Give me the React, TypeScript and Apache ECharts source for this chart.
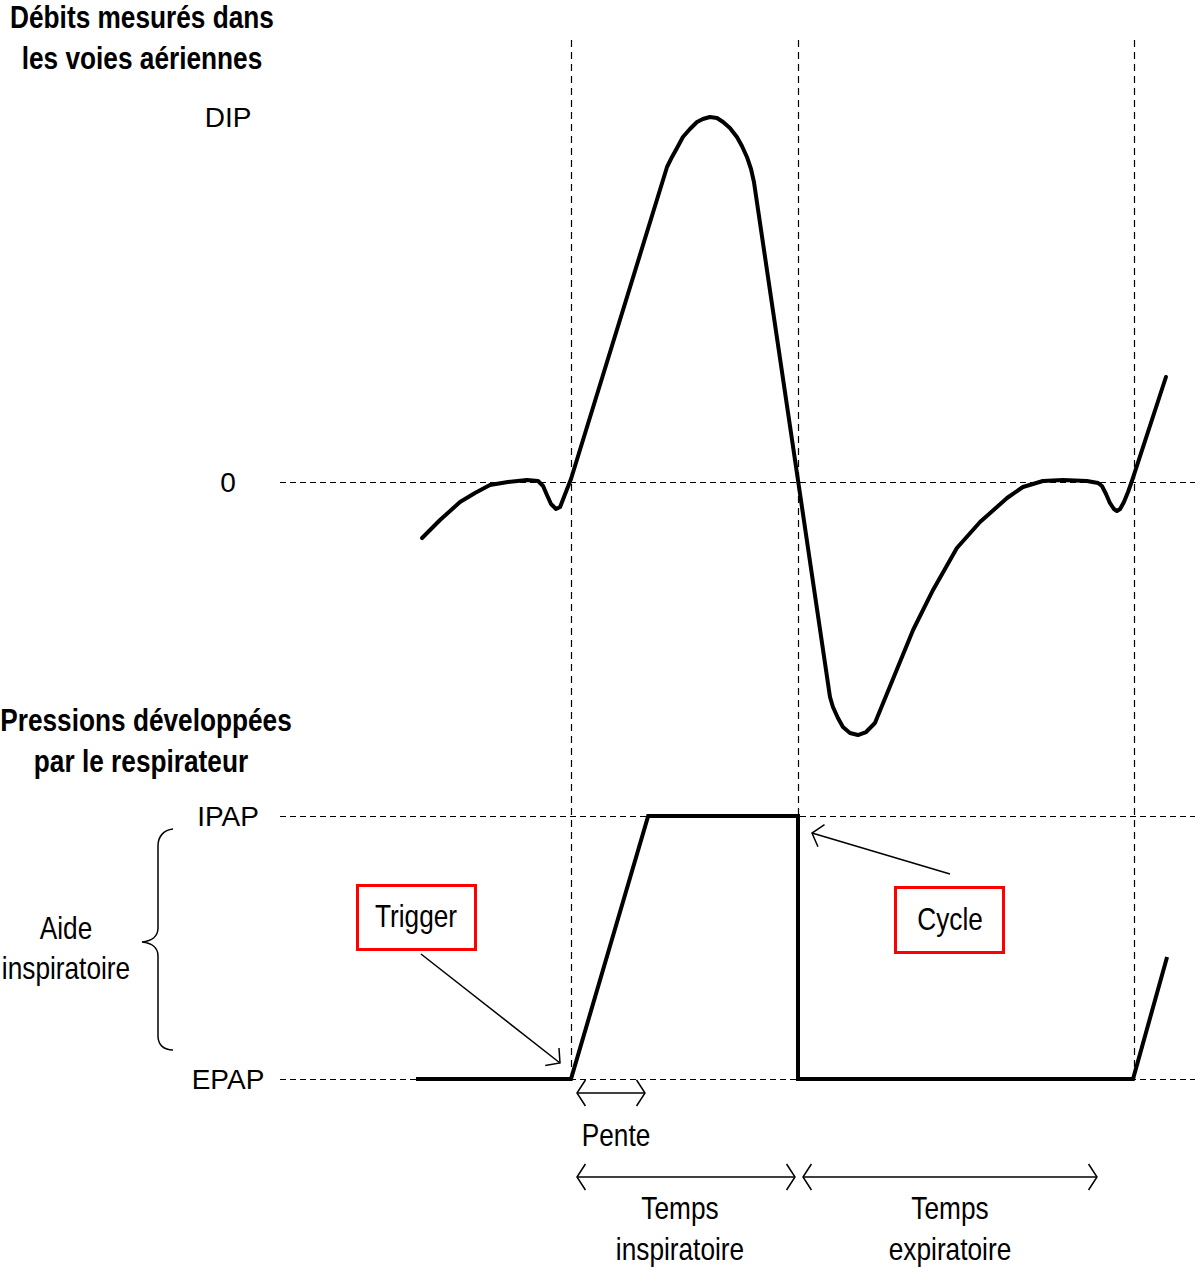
import React, { useEffect, useRef } from "react";
import * as echarts from "echarts";

// Time of the breath events (s): trigger, cycle, next trigger
const breathEvents = [0, 1.0, 2.476];

// Airway flow (L/min) against time (s)
const flowTime = [
  -0.656, -0.577, -0.489, -0.423, -0.357, -0.278, -0.194, -0.145, -0.123, -0.106,
  -0.088, -0.066, -0.048, -0.031, 0, 0.423, 0.445, 0.467, 0.493, 0.524,
  0.555, 0.581, 0.612, 0.643, 0.67, 0.7, 0.731, 0.753, 0.775, 0.793,
  0.806, 1.141, 1.154, 1.176, 1.198, 1.229, 1.264, 1.3, 1.339, 1.507,
  1.595, 1.7, 1.802, 1.921, 1.991, 2.079, 2.167, 2.273, 2.322, 2.339,
  2.357, 2.374, 2.392, 2.405, 2.419, 2.436, 2.454, 2.471, 2.621,
];
const flowValue = [
  -9.21, -6.25, -3.29, -1.81, -0.49, 0, 0.33, 0.16, -0.66, -2.14,
  -3.62, -4.44, -4.11, -2.47, 0.49, 51.78, 53.43, 54.91, 56.72, 58.03,
  59.18, 59.67, 60, 59.84, 59.18, 58.19, 56.72, 55.24, 53.43, 51.45,
  49.32, -35.34, -36.99, -38.8, -40.28, -41.26, -41.59, -41.1, -39.62, -24.33,
  -17.75, -10.85, -6.58, -2.63, -0.82, 0.16, 0.33, 0.16, -0.16, -0.66,
  -1.97, -3.45, -4.44, -4.77, -4.44, -3.29, -1.64, 0.16, 17.26,
];

// Pressure delivered by the ventilator (cmH2O) against time (s)
const pressureTime = [-0.683, 0, 0.34, 1.0, 1.0, 2.476, 2.626];
const pressureValue = [5, 5, 15, 15, 5, 5, 9.64];

// Tick labels
const flowTickValues = [0, 60];
const flowTickLabels = ["0", "DIP"];
const pressureTickValues = [5, 15];
const pressureTickLabels = ["EPAP", "IPAP"];

const BRACE =
  "M173,829 C164,830 158,836 158,846 L158,928 C158,936 152,941 142,942 C152,943 158,948 158,956 L158,1036 C158,1045 164,1050 173,1050";
let braceRegistered = false;
function registerBrace() {
  if (braceRegistered) return;
  echarts.graphic.registerShape("brace", echarts.graphic.extendPath(BRACE, {}));
  braceRegistered = true;
}

function detectNarrow(): boolean {
  try {
    const ctx = document.createElement("canvas").getContext("2d");
    if (!ctx) return false;
    ctx.font = '32px "Liberation Sans Narrow", monospace';
    const a = ctx.measureText("Trigger mmm iii").width;
    ctx.font = "32px monospace";
    const b = ctx.measureText("Trigger mmm iii").width;
    return Math.abs(a - b) > 0.5;
  } catch (e) {
    return false;
  }
}

function head(tx: number, ty: number, fx: number, fy: number, len: number, deg: number) {
  const a = Math.atan2(fy - ty, fx - tx);
  const r = (deg * Math.PI) / 180;
  return [
    [tx + len * Math.cos(a + r), ty + len * Math.sin(a + r)],
    [tx, ty],
    [tx + len * Math.cos(a - r), ty + len * Math.sin(a - r)],
  ];
}

export default function App() {
  const ref = useRef<HTMLDivElement>(null);

  useEffect(() => {
    if (!ref.current) return;
    registerBrace();
    const narrow = detectNarrow();
    const family = narrow
      ? '"Liberation Sans Narrow", "Arial Narrow", sans-serif'
      : '"Liberation Sans", Arial, sans-serif';
    const sx = narrow ? 1 : 0.82;
    const font = (bold: boolean) => `${bold ? "bold " : ""}32px ${family}`;

    const chart = echarts.init(ref.current, undefined, { renderer: "svg" });

    const XMIN = -1.282;
    const XMAX = 2.749;
    const gridBase = { left: 280, width: 915 };

    const label = (text: string, x: number, y: number, bold = false) => ({
      type: "text",
      x,
      y,
      scaleX: sx,
      silent: true,
      style: {
        text,
        x: 0,
        y: 0,
        fill: "#000",
        font: font(bold),
        align: "center",
        verticalAlign: "middle",
      },
    });

    const stroke = { stroke: "#000", lineWidth: 1.5, fill: "none" };
    const line = (x1: number, y1: number, x2: number, y2: number) => ({
      type: "line",
      silent: true,
      shape: { x1, y1, x2, y2 },
      style: stroke,
    });
    const poly = (points: number[][]) => ({
      type: "polyline",
      silent: true,
      shape: { points },
      style: stroke,
    });
    const doubleArrow = (x1: number, x2: number, y: number) => [
      line(x1, y, x2, y),
      poly(head(x1, y, x2, y, 15.5, 57)),
      poly(head(x2, y, x1, y, 15.5, 57)),
    ];

    const axisLabelBase = {
      margin: 52,
      align: "center",
      color: "#000",
      fontSize: narrow ? 33 : 28,
      fontFamily: family,
    };

    const dashedH = { color: "#000", width: 1.2, type: [6, 4] };
    const dashedV = { color: "#000", width: 1.2, type: [7, 5] };

    chart.setOption({
      animation: false,
      backgroundColor: "#fff",
      grid: [
        { ...gridBase, top: 117, height: 730 },
        { ...gridBase, top: 816, height: 263 },
        { ...gridBase, top: 40, height: 1039 },
      ],
      xAxis: [0, 1, 2].map((i) => ({
        type: "value",
        gridIndex: i,
        min: XMIN,
        max: XMAX,
        show: false,
      })),
      yAxis: [
        {
          type: "value",
          gridIndex: 0,
          min: -60,
          max: 60,
          interval: 60,
          axisLine: { show: false },
          axisTick: { show: false },
          splitLine: { show: false },
          axisLabel: {
            ...axisLabelBase,
            formatter: (v: number) => {
              const i = flowTickValues.indexOf(v);
              return i >= 0 ? flowTickLabels[i] : "";
            },
          },
        },
        {
          type: "value",
          gridIndex: 1,
          min: 5,
          max: 15,
          interval: 5,
          axisLine: { show: false },
          axisTick: { show: false },
          splitLine: { show: false },
          axisLabel: {
            ...axisLabelBase,
            formatter: (v: number) => {
              const i = pressureTickValues.indexOf(v);
              return i >= 0 ? pressureTickLabels[i] : "";
            },
          },
        },
        { type: "value", gridIndex: 2, min: 0, max: 1, show: false },
      ],
      series: [
        {
          type: "line",
          name: "guides",
          xAxisIndex: 2,
          yAxisIndex: 2,
          data: [[0, 0.5]],
          symbol: "none",
          lineStyle: { opacity: 0 },
          silent: true,
          markLine: {
            silent: true,
            symbol: ["none", "none"],
            label: { show: false },
            lineStyle: dashedV,
            data: breathEvents.map((t) => ({ xAxis: t })),
          },
        },
        {
          type: "line",
          name: "Débit",
          xAxisIndex: 0,
          yAxisIndex: 0,
          data: flowTime.map((t, i) => [t, flowValue[i]]),
          symbol: "none",
          smooth: false,
          silent: true,
          z: 4,
          lineStyle: { color: "#000", width: 4, join: "round", cap: "round" },
          markLine: {
            silent: true,
            symbol: ["none", "none"],
            label: { show: false },
            lineStyle: dashedH,
            data: [{ yAxis: 0 }],
          },
        },
        {
          type: "line",
          name: "Pression",
          xAxisIndex: 1,
          yAxisIndex: 1,
          data: pressureTime.map((t, i) => [t, pressureValue[i]]),
          symbol: "none",
          silent: true,
          z: 4,
          lineStyle: { color: "#000", width: 4, join: "miter", cap: "butt" },
          markLine: {
            silent: true,
            symbol: ["none", "none"],
            label: { show: false },
            lineStyle: dashedH,
            data: pressureTickValues.map((v) => ({ yAxis: v })),
          },
        },
      ],
      graphic: [
        label("Débits mesurés dans", 142, 17, true),
        label("les voies aériennes", 142, 58, true),
        label("Pressions développées", 146, 720, true),
        label("par le respirateur", 141, 761, true),
        label("Aide", 66, 928),
        label("inspiratoire", 66, 968),
        {
          type: "brace",
          x: 0,
          y: 0,
          silent: true,
          style: { stroke: "#000", lineWidth: 1.5, fill: "none" },
        },
        {
          type: "rect",
          silent: true,
          shape: { x: 357.5, y: 885.5, width: 118, height: 64 },
          style: { stroke: "#ff0000", lineWidth: 3, fill: "none" },
        },
        label("Trigger", 416, 916),
        {
          type: "rect",
          silent: true,
          shape: { x: 895.5, y: 887.5, width: 108, height: 65 },
          style: { stroke: "#ff0000", lineWidth: 3, fill: "none" },
        },
        label("Cycle", 950, 919),
        line(421, 954, 560, 1063),
        poly(head(560, 1063, 421, 954, 15, 48)),
        line(950, 874, 812, 833),
        poly(head(812, 833, 950, 874, 15, 50)),
        ...doubleArrow(577, 645, 1093),
        label("Pente", 616, 1135),
        ...doubleArrow(577, 795, 1177),
        ...doubleArrow(803, 1097, 1177),
        label("Temps", 680, 1208),
        label("inspiratoire", 680, 1249),
        label("Temps", 950, 1208),
        label("expiratoire", 950, 1249),
      ],
    });

    return () => chart.dispose();
  }, []);

  return (
    <div
      ref={ref}
      style={{ position: "fixed", left: 0, top: 0, width: 1197, height: 1268, background: "#fff" }}
    />
  );
}
